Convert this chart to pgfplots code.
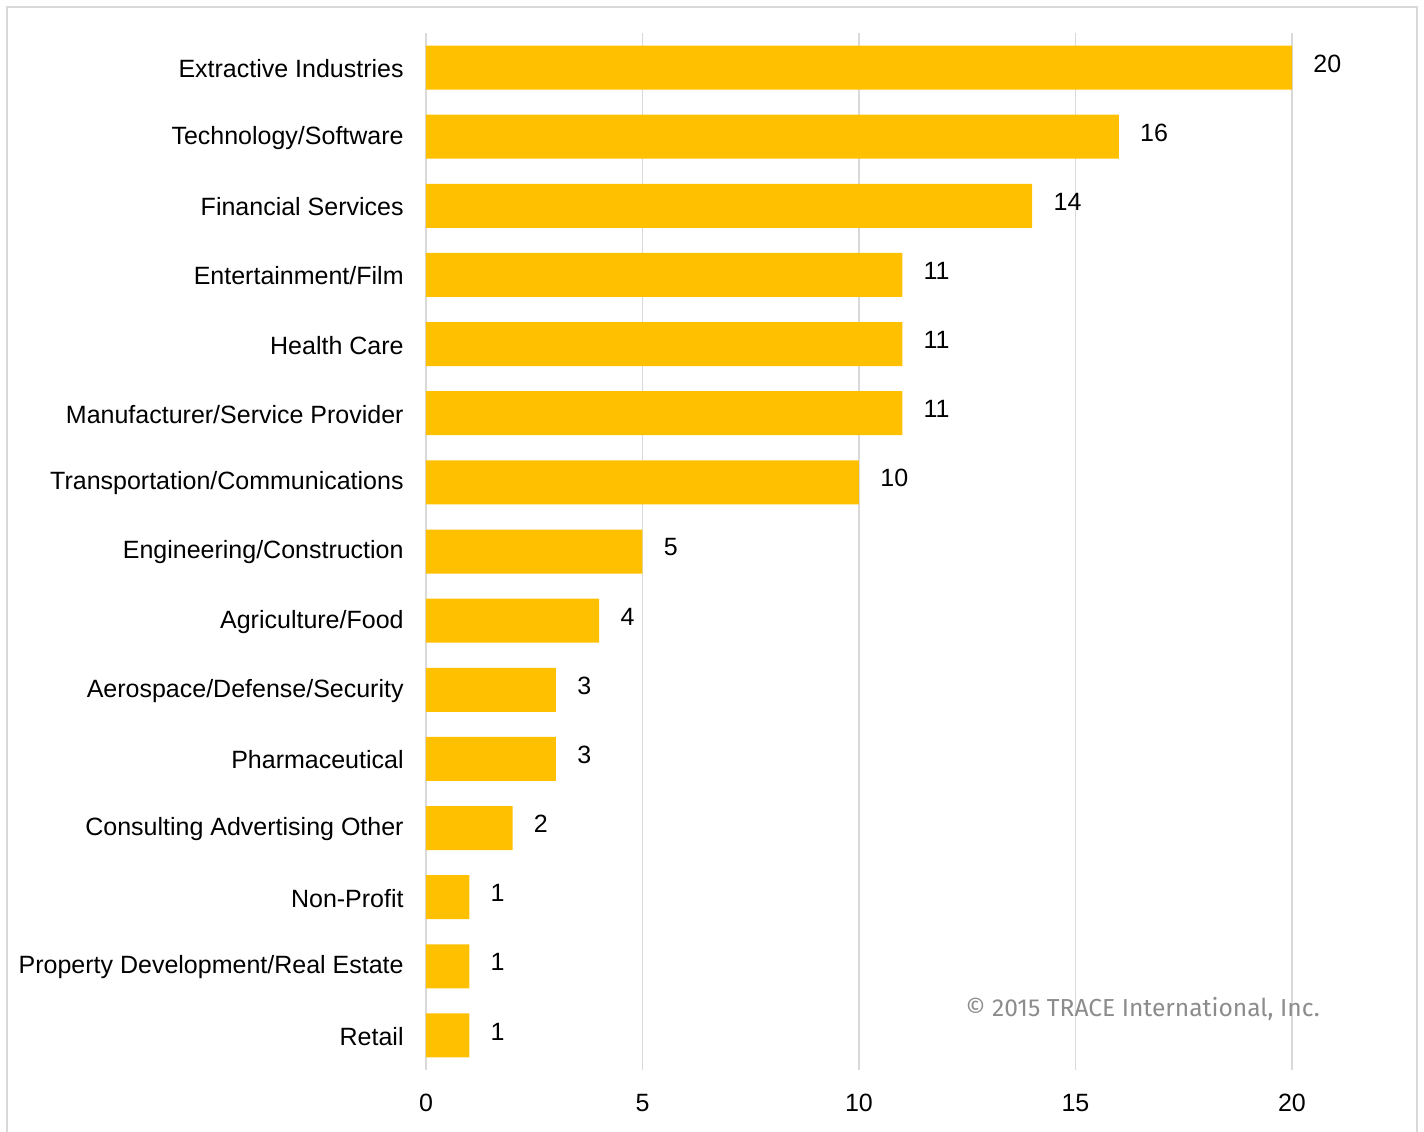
\documentclass[border=0pt]{standalone}
\usepackage{pgfplots}
\pgfplotsset{compat=1.18}
\usepackage{fontspec}
\setmainfont{Liberation Sans}
\newfontfamily\cfont{Fira Sans}
\definecolor{baryellow}{HTML}{FFC000}
\definecolor{gridgray}{HTML}{D9D9D9}
\definecolor{copygray}{HTML}{8C8C8C}
\begin{document}
\begin{tikzpicture}[x=1pt,y=1pt]
\useasboundingbox (-213,-30.5) rectangle (499,535);
\draw[color=gridgray, line width=1.2pt] (-209.5,-40) rectangle (495.5,531.5);
\begin{axis}[
  at={(0,0)}, anchor=south west,
  scale only axis, width=433pt, height=518.5pt,
  xbar, xmin=0, xmax=20, ymin=-0.5, ymax=14.5,
  clip=false,
  axis line style={draw=none},
  major tick length=0pt,
  xmajorgrids, grid style={gridgray, line width=0.9pt},
  xtick={0,5,10,15,20},
  ytick={0,...,14},
  yticklabels={Retail, Property Development/Real Estate, Non-Profit, Consulting Advertising Other, Pharmaceutical, Aerospace/Defense/Security, Agriculture/Food, Engineering/Construction, Transportation/Communications, Manufacturer/Service Provider, Health Care, Entertainment/Film, Financial Services, Technology/Software, Extractive Industries},
  /pgf/number format/assume math mode=true,
  ticklabel style={font=\fontsize{12.5}{15}\selectfont, text=black},
  yticklabel style={anchor=east, inner sep=0pt, xshift=-11pt, yshift=-0.5pt},
  xticklabel style={anchor=north, inner sep=0pt, yshift=-12pt},
  bar width=22pt,
  nodes near coords,
  nodes near coords style={font=\fontsize{12.5}{15}\selectfont, anchor=west, inner sep=0pt, xshift=10.5pt, yshift=2pt, text=black},
]
\addplot[fill=baryellow, draw=none] coordinates {(1,0) (1,1) (1,2) (2,3) (3,4) (3,5) (4,6) (5,7) (10,8) (11,9) (11,10) (11,11) (14,12) (16,13) (20,14)};
\node[anchor=east, inner sep=0pt, font=\cfont\fontsize{12.3}{15}\selectfont, text=copygray] at (axis cs:20.65,0.39) {© 2015 TRACE International, Inc.};
\end{axis}
\end{tikzpicture}
\end{document}
